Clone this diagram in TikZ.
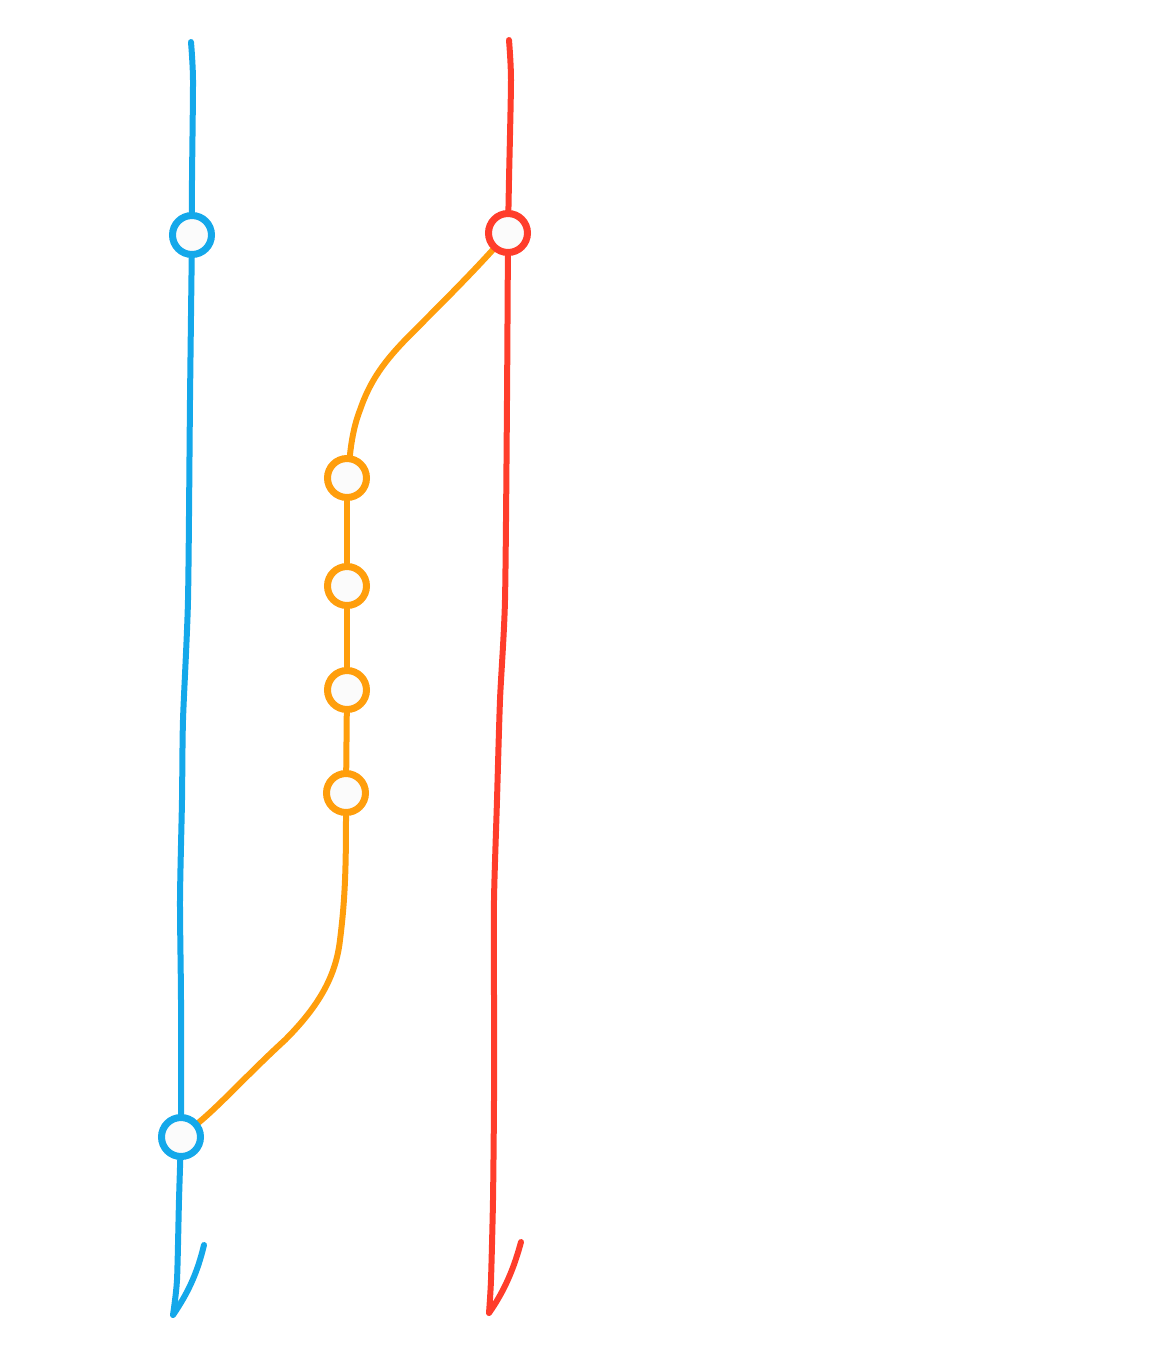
\documentclass[tikz,border=0pt]{standalone}
\usetikzlibrary{backgrounds}
\definecolor{cblue}{HTML}{14A8EA}
\definecolor{cred}{HTML}{FF3D2B}
\definecolor{corange}{HTML}{FF9E0C}
\definecolor{cfill}{HTML}{FBFBFB}
\begin{document}
\begin{tikzpicture}[x=1pt,y=-1pt,
  dot/.style={circle,draw=#1,line width=7pt,fill=cfill,minimum size=39pt,inner sep=0pt},
  track/.style={draw=#1,line width=6pt,line cap=round,line join=round}]
\useasboundingbox (0,0) rectangle (1173,1350);
% blue
\coordinate (btop) at (191,42);
\node[dot=cblue] (b1) at (192,235) {};
\node[dot=cblue] (b2) at (181,1137) {};
\coordinate (btip) at (173,1315);
\coordinate (bbar) at (204,1245);
% red
\coordinate (rtop) at (509,40);
\node[dot=cred] (r1) at (508,233) {};
\coordinate (rtip) at (489,1313);
\coordinate (rbar) at (521,1242);
% orange
\node[dot=corange] (o1) at (347,478) {};
\node[dot=corange] (o2) at (347,586) {};
\node[dot=corange] (o3) at (347,690) {};
\node[dot=corange] (o4) at (346,793) {};
\begin{scope}[on background layer]
\draw[track=cblue] plot[smooth,tension=0.4] coordinates {(btop) (193,80) (192,180) (b1)};
\draw[track=cblue] plot[smooth,tension=0.4] coordinates {(b1) (190,400) (188,600) (183,720) (182,800) (180,900) (181,1000) (b2)};
\draw[track=cblue] plot[smooth,tension=0.4] coordinates {(b2) (179,1200) (177,1280) (btip)} (btip) .. controls (190,1290) and (198,1270) .. (bbar);
\draw[track=cred] plot[smooth,tension=0.4] coordinates {(rtop) (511,80) (509,180) (r1)};
\draw[track=cred] plot[smooth,tension=0.4] coordinates {(r1) (507,400) (505,600) (500,700) (497,800) (494,900) (494,1000) (494,1100) (493,1200) (491,1280) (rtip)} (rtip) .. controls (505,1290) and (514,1268) .. (rbar);
\draw[track=corange] (r1) .. controls (470,275) and (440,305) .. (415,330) .. controls (390,355) and (372,375) .. (360,410) .. controls (352,430) and (350,455) .. (o1);
\draw[track=corange] (o1) -- (o2);
\draw[track=corange] (o2) -- (o3);
\draw[track=corange] (o3) -- (o4);
\draw[track=corange] (o4) .. controls (346,870) and (345,900) .. (340,940) .. controls (336,975) and (320,1005) .. (285,1040) .. controls (250,1072) and (220,1105) .. (b2);
\end{scope}
\end{tikzpicture}
\end{document}
